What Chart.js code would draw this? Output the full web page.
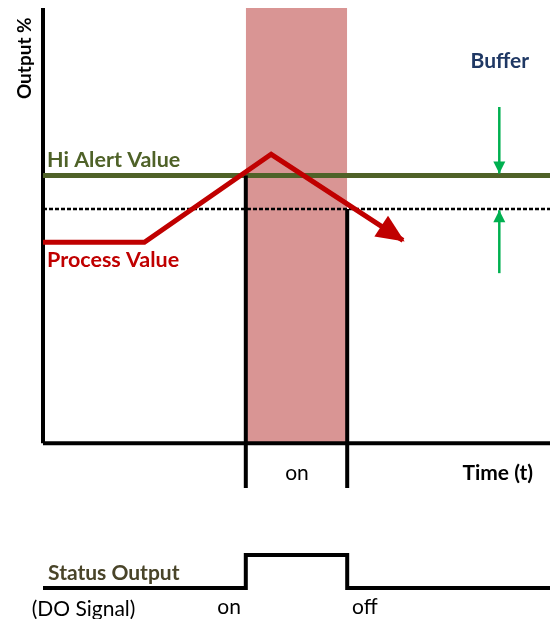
<!DOCTYPE html>
<html>
<head>
<meta charset="utf-8">
<script src="https://cdn.jsdelivr.net/npm/chart.js@4.4.1/dist/chart.umd.min.js"></script>
<style>
  html, body { margin: 0; padding: 0; background: #fff; }
  canvas { display: block; }
</style>
</head>
<body>
<canvas id="chart" width="550" height="619"></canvas>
<script>
// Time axis runs 0..10, output axis 0..130 %
const timeEnd = 10;
const outputTop = 130;
const hiAlertValue = 80;
const bufferValue = 70;
const onTime = 4;
const offTime = 6;

// process value path (time, output %)
const processTime = [0, 2, 4.5, 7.1];
const processOutput = [60, 60, 86.3, 60.6];

// buffer arrows at t = 9
const bufferArrowTime = 9;
const bufferArrowTop = [100.4, 80.6];
const bufferArrowBottom = [50.8, 69.6];

// lower end of the on/off markers below the time axis
const markerBottom = -13.4;

// DO signal (0 = off, 1 = on)
const statusTime = [0, 4, 4, 6, 6, 10];
const statusValue = [0, 0, 1, 1, 0, 0];

const FONT = 'Lato, "Open Sans", sans-serif';

const pts = (xs, ys) => xs.map((x, i) => ({ x, y: ys[i] }));

function line(data, color, width, extra) {
    return Object.assign({
        data,
        borderColor: color,
        backgroundColor: color,
        borderWidth: width,
        pointRadius: 0,
        tension: 0,
        fill: false,
        clip: false,
        borderCapStyle: 'butt',
        borderJoinStyle: 'miter'
    }, extra || {});
}

// text notes, placed in data units
const notes = [
    { text: 'Output %', x: -0.355, y: 115, bold: true, size: 19, color: '#000', rotate: true },
    { text: 'Hi Alert Value', x: 0.08, y: 84.5, bold: true, size: 21.5, color: '#4f6228', align: 'left' },
    { text: 'Process Value', x: 0.08, y: 54.7, bold: true, size: 21.5, color: '#c00000', align: 'left' },
    { text: 'Buffer', x: 9.01, y: 114, bold: true, size: 21, color: '#1f3864' },
    { text: 'on', x: 5.01, y: -9, size: 21, color: '#000' },
    { text: 'Time (t)', x: 8.97, y: -9, bold: true, size: 21, color: '#000' },
    { text: 'Status Output', x: 0.1, y: 0.45, axis: 'ys', bold: true, size: 21, color: '#494429', align: 'left' },
    { text: '(DO Signal)', x: 0.8, y: -0.64, axis: 'ys', size: 21, color: '#000' },
    { text: 'on', x: 3.67, y: -0.58, axis: 'ys', size: 21, color: '#000' },
    { text: 'off', x: 6.35, y: -0.58, axis: 'ys', size: 21, color: '#000' }
];

const arrowHeads = {
    id: 'arrowHeads',
    afterDatasetsDraw(chart) {
        const ctx = chart.ctx;
        chart.data.datasets.forEach((ds, i) => {
            if (!ds.arrow) return;
            const els = chart.getDatasetMeta(i).data;
            const a = els[els.length - 2], b = els[els.length - 1];
            const ang = Math.atan2(b.y - a.y, b.x - a.x);
            const L = ds.arrow.length, W = ds.arrow.width / 2, ext = ds.arrow.ext || 0;
            const tx = b.x + Math.cos(ang) * ext, ty = b.y + Math.sin(ang) * ext;
            ctx.save();
            ctx.translate(tx, ty);
            ctx.rotate(ang);
            ctx.beginPath();
            ctx.moveTo(0, 0);
            ctx.lineTo(-L, -W);
            ctx.lineTo(-L, W);
            ctx.closePath();
            ctx.fillStyle = ds.borderColor;
            ctx.fill();
            ctx.restore();
        });
    }
};

const textNotes = {
    id: 'textNotes',
    afterDraw(chart) {
        const ctx = chart.ctx;
        const xs = chart.scales.x;
        notes.forEach(n => {
            const ys = chart.scales[n.axis || 'y'];
            const px = xs.getPixelForValue(n.x), py = ys.getPixelForValue(n.y);
            ctx.save();
            ctx.font = (n.bold ? 'bold ' : '') + n.size + 'px ' + FONT;
            ctx.fillStyle = n.color;
            ctx.textAlign = n.align || 'center';
            ctx.textBaseline = 'middle';
            ctx.translate(px, py);
            if (n.rotate) ctx.rotate(-Math.PI / 2);
            ctx.fillText(n.text, 0, 0);
            ctx.restore();
        });
    }
};

// first dataset is drawn on top
const datasets = [
    line(pts(processTime, processOutput), '#c00000', 5, { arrow: { length: 28, width: 25, ext: 2 } }),
    line(pts([bufferArrowTime, bufferArrowTime], bufferArrowTop), '#00b050', 2.5, { arrow: { length: 12, width: 12 } }),
    line(pts([bufferArrowTime, bufferArrowTime], bufferArrowBottom), '#00b050', 2.5, { arrow: { length: 12, width: 12 } }),
    line(pts([onTime, onTime], [hiAlertValue, markerBottom]), '#000', 4),
    line(pts([offTime, offTime], [bufferValue, markerBottom]), '#000', 4),
    line(pts([0, timeEnd], [hiAlertValue, hiAlertValue]), '#4f6228', 5),
    line(pts([0, timeEnd], [bufferValue, bufferValue]), '#000', 2.5, { borderDash: [4, 2] }),
    line(pts([0, timeEnd], [0, 0]), '#000', 4),
    line(pts([0, 0], [0, outputTop]), '#000', 4),
    line(pts(statusTime, statusValue), '#000', 4, { yAxisID: 'ys' }),
    line(pts([onTime, onTime, offTime, offTime], [0, outputTop, outputTop, 0]), '#d99594', 0,
        { fill: 'origin', backgroundColor: '#d99594' })
];

new Chart(document.getElementById('chart').getContext('2d'), {
    type: 'line',
    data: { datasets },
    options: {
        responsive: false,
        animation: false,
        events: [],
        layout: { padding: { left: 43, top: 8, right: 0, bottom: 0 } },
        plugins: { legend: { display: false }, tooltip: { enabled: false } },
        scales: {
            x: { type: 'linear', min: 0, max: timeEnd, display: false },
            y: { type: 'linear', min: -52.5, max: outputTop, display: false },
            ys: { type: 'linear', min: -0.94, max: 17.58, display: false }
        }
    },
    plugins: [arrowHeads, textNotes]
});
</script>
</body>
</html>
